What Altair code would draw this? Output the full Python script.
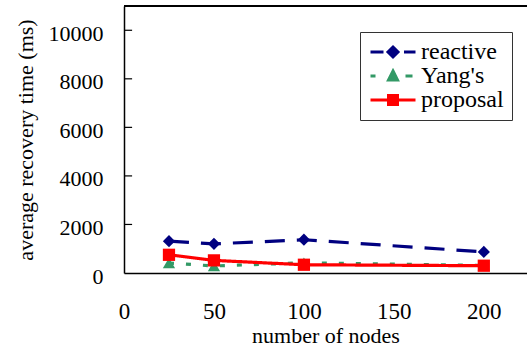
import altair as alt
import pandas as pd

# ---- data ----
nodes = [25, 50, 100, 200]
series = ["reactive", "Yang's", "proposal"]
reactive = [1310, 1200, 1370, 870]
yangs = [410, 290, 420, 310]
proposal = [750, 520, 340, 300]
x_ticks = [0, 50, 100, 150, 200]
y_ticks = [0, 2000, 4000, 6000, 8000, 10000]
x_max = 224
y_max = 11000

# ---- styles ----
colors = ["#000080", "#339966", "#ff0000"]
dashes = [[20, 12], [5, 12], [1, 0]]
shapes = ["diamond", "triangle-up", "square"]
legend_paths = [
    "M-2.25,0L-0.95,0M0,-0.5L0.5,0L0,0.5L-0.5,0ZM1.1,0L2.25,0",
    "M-2.25,0L-1.75,0M0,-0.5L0.45,0.4L-0.45,0.4ZM1.25,0L1.95,0",
    "M-2.25,0L2.25,0M-0.45,-0.45L0.45,-0.45L0.45,0.45L-0.45,0.45Z",
]
FONT = "Liberation Serif"

rows = []
for name, vals in zip(series, [reactive, yangs, proposal]):
    for n, v in zip(nodes, vals):
        rows.append({"nodes": n, "time": v, "series": name})
df = pd.DataFrame(rows)
tick_df = pd.DataFrame({"t": y_ticks[1:]})

x_scale = alt.Scale(domain=[0, x_max], nice=False, zero=False)
y_scale = alt.Scale(domain=[0, y_max], nice=False)

x_axis = alt.Axis(
    values=x_ticks, title="number of nodes", ticks=False, tickSize=0, grid=False,
    labelPadding=27, titlePadding=2, domainColor="#000", domainWidth=1.5,
    labelFlush=False, format="d", labelFontSize=23,
)
y_axis = alt.Axis(
    values=y_ticks, title="average recovery time (ms)", ticks=False, tickSize=0,
    grid=False, labelPadding=21, labelOffset=3, titlePadding=11,
    domainColor="#000", domainWidth=1.5, labelFlush=False, format="d", labelFontSize=22,
)

base = alt.Chart(df)
X = alt.X("nodes:Q", scale=x_scale, axis=x_axis)
Y = alt.Y("time:Q", scale=y_scale, axis=y_axis)
color = alt.Color("series:N", scale=alt.Scale(domain=series, range=colors), legend=None)

top_border = alt.Chart(df).mark_rule(color="#000", strokeWidth=1.5).encode(
    x=alt.datum(0), x2=alt.datum(x_max), y=alt.datum(y_max)
)
inner_ticks = alt.Chart(tick_df).mark_rule(color="#000", strokeWidth=1.2).encode(
    x=alt.datum(0), x2=alt.datum(4.5), y=alt.Y("t:Q", scale=y_scale)
)

lines = base.mark_line(strokeWidth=3.2).encode(
    x=X, y=Y, color=color,
    strokeDash=alt.StrokeDash("series:N", scale=alt.Scale(domain=series, range=dashes), legend=None),
)
points = base.mark_point(filled=True, opacity=1, size=150).encode(
    x=X, y=Y, color=color,
    shape=alt.Shape("series:N", scale=alt.Scale(domain=series, range=shapes), legend=None),
)

legend_cfg = dict(
    title=None, orient="none", legendX=236, legendY=26,
    symbolSize=400, symbolStrokeWidth=3, symbolOffset=13, labelOffset=16,
    padding=8, rowPadding=0, strokeColor="#333", fillColor="#fff",
)
legend_layer = base.mark_point(filled=True, opacity=1).transform_filter("false").encode(
    x=X, y=Y,
    shape=alt.Shape("series:N", scale=alt.Scale(domain=series, range=legend_paths),
                    legend=alt.Legend(**legend_cfg)),
    fill=alt.Fill("series:N", scale=alt.Scale(domain=series, range=colors),
                  legend=alt.Legend(**legend_cfg)),
    stroke=alt.Stroke("series:N", scale=alt.Scale(domain=series, range=colors),
                      legend=alt.Legend(**legend_cfg)),
)

chart = alt.layer(top_border, inner_ticks, lines, points, legend_layer).resolve_scale(
    shape="independent", fill="independent", stroke="independent"
).properties(
    width=403, height=267,
    padding={"left": 124, "top": 6, "right": 0, "bottom": 76},
    autosize=alt.AutoSizeParams(type="none"),
    background="#ffffff",
).configure(
    font=FONT
).configure_axis(
    labelFont=FONT, titleFont=FONT, titleFontSize=22,
    labelColor="#000", titleColor="#000", titleFontWeight="normal",
).configure_legend(
    labelFont=FONT, labelFontSize=24, labelColor="#000",
).configure_view(stroke=None)

chart.save("out.html", embed_options={"renderer": "svg", "actions": False})
